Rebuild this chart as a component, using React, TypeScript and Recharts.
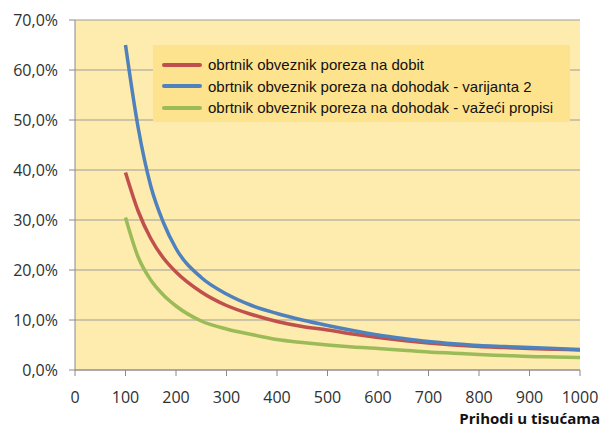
import { CartesianGrid, Line, LineChart, XAxis, YAxis } from "recharts";

const incomes = [100, 125, 150, 175, 200, 250, 300, 350, 400, 450, 500, 550, 600, 650, 700, 750, 800, 850, 900, 950, 1000];
const dobit = [39.5, 31.8, 26.3, 22.4, 19.6, 15.6, 12.9, 11.1, 9.7, 8.7, 8.0, 7.2, 6.5, 5.9, 5.4, 5.0, 4.7, 4.5, 4.3, 4.15, 4.0];
const varijanta2 = [65, 48.5, 36.8, 29.5, 24.3, 18.5, 15.2, 12.9, 11.3, 10.0, 8.9, 7.9, 7.0, 6.3, 5.7, 5.25, 4.9, 4.7, 4.5, 4.3, 4.1];
const vazeci = [30.5, 22.6, 18.0, 15.0, 12.8, 9.8, 8.2, 7.1, 6.1, 5.5, 5.0, 4.6, 4.3, 3.95, 3.6, 3.35, 3.1, 2.9, 2.7, 2.6, 2.5];

const seriesNames = [
  "obrtnik obveznik poreza na dobit",
  "obrtnik obveznik poreza na dohodak - varijanta 2",
  "obrtnik obveznik poreza na dohodak - važeći propisi",
];
const seriesColors = ["#c0504d", "#4f81bd", "#9bbb59"];
const xTicks = [0, 100, 200, 300, 400, 500, 600, 700, 800, 900, 1000];
const yTicks = [0, 10, 20, 30, 40, 50, 60, 70];
const xTitle = "Prihodi u tisućama";

const data = incomes.map((income, i) => ({
  income,
  dobit: dobit[i],
  varijanta2: varijanta2[i],
  vazeci: vazeci[i],
}));

const axisFont = { fontFamily: "'Open Sans', sans-serif", fontSize: 16, fill: "#303030" };

const fmtPct = (v: number) => v.toFixed(1).replace(".", ",") + "%";

// legend drawn as an overlay so it doesn't eat into the plot area
function LegendBox() {
  return (
    <div
      style={{
        position: "absolute",
        left: 153,
        top: 45,
        width: 417,
        height: 77,
        background: "#fde38d",
        padding: "9px 0 0 9px",
        boxSizing: "border-box",
        fontFamily: "'Liberation Sans', Arial, sans-serif",
        fontSize: 15,
        color: "#111",
      }}
    >
      {seriesNames.map((name, i) => (
        <div key={name} style={{ display: "flex", alignItems: "center", height: 21.5 }}>
          <span
            style={{
              display: "inline-block",
              width: 40,
              height: 4,
              borderRadius: 2,
              background: seriesColors[i],
              marginRight: 6,
            }}
          />
          <span style={{ whiteSpace: "nowrap" }}>{name}</span>
        </div>
      ))}
    </div>
  );
}

export default function App() {
  return (
    <div style={{ position: "relative", width: 604, height: 428, overflow: "hidden", background: "#fff" }}>
      <style>{"body{margin:0}"}</style>
      <LineChart width={604} height={428} data={data} margin={{ top: 20, right: 24, bottom: 0, left: 0 }}>
        <CartesianGrid vertical={false} stroke="#9c9c9c" fill="#feebae" />
        <XAxis
          dataKey="income"
          type="number"
          domain={[0, 1000]}
          ticks={xTicks}
          height={58}
          tick={axisFont}
          tickSize={6}
          tickMargin={16}
          stroke="#8a8a8a"
        />
        <YAxis
          type="number"
          domain={[0, 70]}
          ticks={yTicks}
          width={75}
          tick={axisFont}
          tickSize={6}
          tickMargin={11}
          tickFormatter={fmtPct}
          stroke="#8a8a8a"
        />
        <Line dataKey="dobit" name={seriesNames[0]} type="monotone" stroke={seriesColors[0]} strokeWidth={3.5} dot={false} isAnimationActive={false} />
        <Line dataKey="varijanta2" name={seriesNames[1]} type="monotone" stroke={seriesColors[1]} strokeWidth={3.5} dot={false} isAnimationActive={false} />
        <Line dataKey="vazeci" name={seriesNames[2]} type="monotone" stroke={seriesColors[2]} strokeWidth={3.5} dot={false} isAnimationActive={false} />
      </LineChart>
      <LegendBox />
      <div
        style={{
          position: "absolute",
          right: 4,
          top: 411,
          fontFamily: "'Open Sans', sans-serif",
          fontWeight: 700,
          fontSize: 15,
          lineHeight: "15px",
          color: "#111",
          whiteSpace: "nowrap",
        }}
      >
        {xTitle}
      </div>
    </div>
  );
}
